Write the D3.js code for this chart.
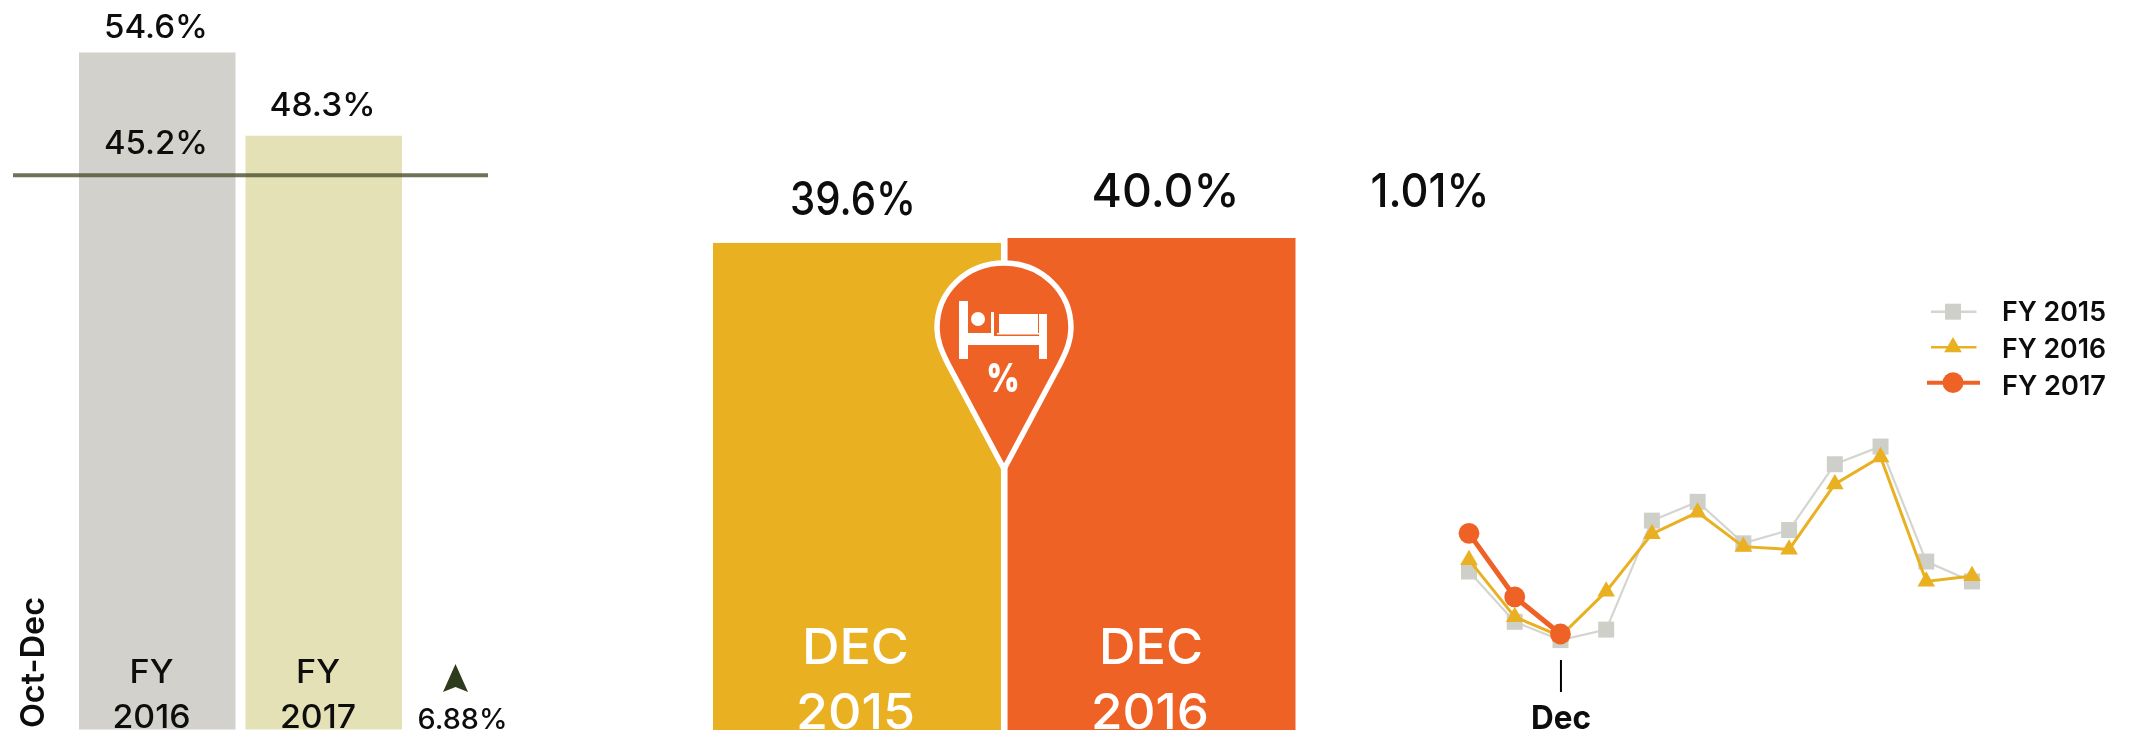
<!DOCTYPE html>
<html>
<head>
<meta charset="utf-8">
<script src="https://cdn.jsdelivr.net/npm/d3@7"></script>
<style>
html,body{margin:0;padding:0;background:#fff;overflow:hidden}
svg{display:block}
text{font-family:Inter,"Open Sans",sans-serif}
</style>
</head>
<body>
<div id="chart"></div>
<script>
// ---------- data ----------
const quarterCats   = ["FY 2016", "FY 2017"];
const quarterValues = [54.6, 48.3];
const quarterRef    = 45.2;
const quarterChange = "6.88%";
const quarterPeriod = "Oct-Dec";

const decCats   = ["DEC 2015", "DEC 2016"];
const decValues = [39.6, 40.0];
const decChange = "1.01%";

const months = ["Oct","Nov","Dec","Jan","Feb","Mar","Apr","May","Jun","Jul","Aug","Sep"];
const fy2015 = [51.3,42.2,38.9,40.8,60.5,63.9,56.4,58.8,70.7,73.9,53.1,49.5];
const fy2016 = [53.4,43.1,39.6,47.7,58.1,62.0,55.8,55.3,67.1,72.0,49.5,50.5];
const fy2017 = [58.2,46.7,40.0];
const seriesNames = ["FY 2015","FY 2016","FY 2017"];
const tickMonths = ["Dec"];

// ---------- setup ----------
const svg = d3.select("#chart").append("svg").attr("width",2131).attr("height",735);
const defs = svg.append("defs");
defs.append("filter").attr("id","soft").attr("x","-5%").attr("y","-5%").attr("width","110%").attr("height","110%")
  .append("feGaussianBlur").attr("stdDeviation",0.7);
const root = svg.append("g").attr("filter","url(#soft)");
root.append("rect").attr("width",2131).attr("height",735).attr("fill","#fff");

const INK="#0d0d0b", GREY="#d2d1cb", PALE="#e3e1b5", GOLD="#e9b021", ORANGE="#ef6226", MARK="#cfcfca";

function label(g,x,y,str,width,size,fill,weight){
  return g.append("text").attr("x",x).attr("y",y).attr("text-anchor","middle")
    .attr("font-size",size).attr("font-weight",weight||500).attr("fill",fill||INK)
    .attr("textLength",width).attr("lengthAdjust","spacingAndGlyphs").text(str);
}

// ---------- left panel ----------
const qx = d3.scaleBand().domain(quarterCats).range([79,402]).paddingInner(0.06);
const qy = d3.scaleLinear().domain([3.35,54.6]).range([729.5,52.5]);
const left = root.append("g");
left.selectAll("rect.bar").data(quarterCats).join("rect").attr("class","bar")
  .attr("x",d=>qx(d)).attr("width",qx.bandwidth())
  .attr("y",(d,i)=>qy(quarterValues[i])).attr("height",(d,i)=>qy.range()[0]-qy(quarterValues[i]))
  .attr("fill",(d,i)=>[GREY,PALE][i]);
left.append("line").attr("x1",13).attr("x2",488).attr("y1",175.3).attr("y2",175.3)
  .attr("stroke","#4c5030").attr("stroke-opacity",0.8).attr("stroke-width",4)
  .attr("data-value",quarterRef);
label(left,156,38,d3.format(".1f")(quarterValues[0])+"%",104,32);
label(left,322.5,116,d3.format(".1f")(quarterValues[1])+"%",106,32);
label(left,156,154,d3.format(".1f")(quarterRef)+"%",104,32);
quarterCats.forEach((c,i)=>{
  const cx=[151.5,318][i], p=c.split(" ");
  label(left,cx,683,p[0],44,32);
  label(left,cx,728,p[1],[78,76][i],32);
});
left.append("path").attr("d","M455.5,664L468,692L455.5,687L443,692Z").attr("fill","#2f3b1c");
label(left,462.5,729,quarterChange,90,28);
left.append("text").attr("transform","translate(44,728) rotate(-90)")
  .attr("font-size",33).attr("font-weight",600).attr("fill",INK)
  .attr("textLength",131).attr("lengthAdjust","spacingAndGlyphs").text(quarterPeriod);

// ---------- middle panel ----------
const dx = d3.scaleBand().domain(decCats).range([713,1295.5]).paddingInner(0.0224);
const dy = d3.scaleLinear().domain([0,40]).range([730,238]);
const mid = root.append("g");
mid.selectAll("rect.bar").data(decCats).join("rect").attr("class","bar")
  .attr("x",d=>dx(d)).attr("width",dx.bandwidth())
  .attr("y",(d,i)=>dy(decValues[i])).attr("height",(d,i)=>dy(0)-dy(decValues[i]))
  .attr("fill",(d,i)=>[GOLD,ORANGE][i]);
label(mid,853,215,d3.format(".1f")(decValues[0])+"%",126,47);
label(mid,1165.5,206.7,d3.format(".1f")(decValues[1])+"%",148,47);
label(mid,1430,206.7,decChange,119,47);
decCats.forEach((c,i)=>{
  const p=c.split(" ");
  label(mid,[855.5,1151][i],664,p[0],[107,104][i],50,"#fff",500);
  label(mid,[855.5,1150][i],729,p[1],[119,118][i],50,"#fff",500);
});
// pin icon
const pin = root.append("g");
pin.append("path")
  .attr("d","M1004,469L948,364C941,350 937,340 937,328C937,291 967,263 1004,263C1041,263 1071,291 1071,328C1071,340 1067,350 1060,364Z")
  .attr("fill",ORANGE).attr("stroke","#fff").attr("stroke-width",5.5).attr("stroke-linejoin","miter");
[[959,301,9,58],[1039,314,8,45],[959,336,88,9],[999,314,39,19],[968,333,26,3],[991,312,3,21],[997,333,42,1.5]]
  .forEach(r=>pin.append("rect").attr("x",r[0]).attr("y",r[1]).attr("width",r[2]).attr("height",r[3]).attr("fill","#fff"));
pin.append("circle").attr("cx",978).attr("cy",319).attr("r",7).attr("fill","#fff");
label(pin,1003,392,"%",33,40,"#fff",900);

// ---------- line chart ----------
const lx = d3.scalePoint().domain(months).range([1469,1972]);
const ly = d3.scaleLinear().domain([30,80]).range([689.3,412.8]);
const line = d3.line().x((d,i)=>lx(months[i])).y(d=>ly(d));
const chart = root.append("g");
const sym = (t,s)=>d3.symbol().type(t).size(s)();
const styles = [
  {vals:fy2015,color:"#d5d5d0",fill:MARK,w:2.2, mark:sym(d3.symbolSquare,256)},
  {vals:fy2016,color:GOLD,     fill:GOLD,w:3,   mark:sym(d3.symbolTriangle,135)},
  {vals:fy2017,color:ORANGE,   fill:ORANGE,w:5, mark:sym(d3.symbolCircle,340)}
];
styles.forEach(s=>{
  const g=chart.append("g");
  g.append("path").attr("d",line(s.vals)).attr("fill","none").attr("stroke",s.color).attr("stroke-width",s.w);
  g.selectAll("path.m").data(s.vals).join("path").attr("class","m").attr("d",s.mark).attr("fill",s.fill)
    .attr("transform",(d,i)=>`translate(${lx(months[i])},${ly(d)})`);
});
// axis carrying only the Dec tick
const ax = chart.append("g").attr("transform","translate(0,660)")
  .call(d3.axisBottom(lx).tickValues(tickMonths).tickSize(32).tickPadding(14));
ax.select(".domain").remove();
ax.selectAll("line").attr("stroke","#000").attr("stroke-width",2);
ax.selectAll("text").attr("font-family","Inter").attr("font-size",33).attr("font-weight",700).attr("fill",INK)
  .attr("textLength",60).attr("lengthAdjust","spacingAndGlyphs");

// legend
const legendY = d3.scalePoint().domain(seriesNames).range([311.7,382.7]);
const legend = chart.append("g");
seriesNames.forEach((n,i)=>{
  const y=legendY(n), s=styles[i], ext=i==2?[1927,1980]:[1931,1976.5];
  legend.append("line").attr("x1",ext[0]).attr("x2",ext[1]).attr("y1",y).attr("y2",y).attr("stroke",s.color).attr("stroke-width",i==2?4:2.6);
  legend.append("path").attr("d",s.mark).attr("fill",s.fill).attr("transform",`translate(1953,${y})`);
  label(legend,2054,[321,358,395][i],n,104,27,INK,600);
});
</script>
</body>
</html>
